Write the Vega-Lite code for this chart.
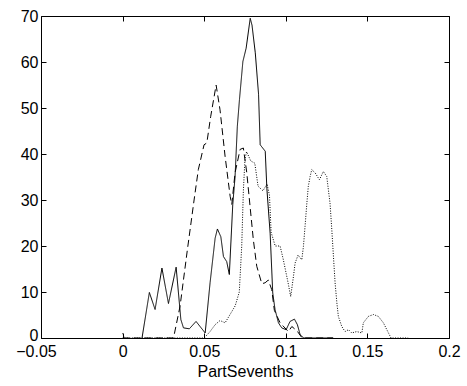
{
  "$schema": "https://vega.github.io/schema/vega-lite/v6.json",
  "width": 408,
  "height": 322,
  "autosize": {"type": "none"},
  "padding": {"left": 41, "top": 16, "right": 18, "bottom": 48},
  "background": "white",
  "config": {
    "view": {"stroke": null},
    "font": "Liberation Sans",
    "axis": {
      "grid": false,
      "domainColor": "black",
      "domainWidth": 1,
      "tickColor": "black",
      "tickWidth": 1,
      "tickSize": -5,
      "labelColor": "black",
      "labelFontSize": 16,
      "labelFont": "Liberation Sans",
      "titleFont": "Liberation Sans",
      "titleFontSize": 16,
      "titleFontWeight": "normal",
      "titleColor": "black"
    }
  },
  "data": {
    "values": [
      {"s": "solid", "x": 0.0119, "y": 0},
      {"s": "solid", "x": 0.0164, "y": 9.9},
      {"s": "solid", "x": 0.0199, "y": 6.2},
      {"s": "solid", "x": 0.0241, "y": 15.2},
      {"s": "solid", "x": 0.0281, "y": 7.5},
      {"s": "solid", "x": 0.0328, "y": 15.4},
      {"s": "solid", "x": 0.0357, "y": 4},
      {"s": "solid", "x": 0.0373, "y": 2.2},
      {"s": "solid", "x": 0.0409, "y": 2},
      {"s": "solid", "x": 0.045, "y": 3.6},
      {"s": "solid", "x": 0.0506, "y": 1.1},
      {"s": "solid", "x": 0.0536, "y": 12},
      {"s": "solid", "x": 0.0567, "y": 21.7},
      {"s": "solid", "x": 0.0581, "y": 23.7},
      {"s": "solid", "x": 0.0602, "y": 22},
      {"s": "solid", "x": 0.0618, "y": 17.7},
      {"s": "solid", "x": 0.0638, "y": 16.6},
      {"s": "solid", "x": 0.0654, "y": 13.8},
      {"s": "solid", "x": 0.0675, "y": 29},
      {"s": "solid", "x": 0.0689, "y": 35},
      {"s": "solid", "x": 0.0703, "y": 46},
      {"s": "solid", "x": 0.0716, "y": 51.8},
      {"s": "solid", "x": 0.0737, "y": 60.1},
      {"s": "solid", "x": 0.0757, "y": 63},
      {"s": "solid", "x": 0.0782, "y": 69.5},
      {"s": "solid", "x": 0.0793, "y": 68},
      {"s": "solid", "x": 0.0813, "y": 62},
      {"s": "solid", "x": 0.0833, "y": 53},
      {"s": "solid", "x": 0.0843, "y": 42},
      {"s": "solid", "x": 0.0874, "y": 40.6},
      {"s": "solid", "x": 0.0884, "y": 32.5},
      {"s": "solid", "x": 0.0904, "y": 22.8},
      {"s": "solid", "x": 0.092, "y": 9.8},
      {"s": "solid", "x": 0.0934, "y": 6.2},
      {"s": "solid", "x": 0.0955, "y": 3.3},
      {"s": "solid", "x": 0.0975, "y": 2.2},
      {"s": "solid", "x": 0.1002, "y": 1.8},
      {"s": "solid", "x": 0.1026, "y": 3.6},
      {"s": "solid", "x": 0.1053, "y": 4.1},
      {"s": "solid", "x": 0.1071, "y": 2.9},
      {"s": "solid", "x": 0.1088, "y": 0.7},
      {"s": "solid", "x": 0.111, "y": 0},
      {"s": "solid", "x": 0.129, "y": 0},

      {"s": "dashed", "x": 0, "y": 0},
      {"s": "dashed", "x": 0.031, "y": 0},
      {"s": "dashed", "x": 0.0316, "y": 0.7},
      {"s": "dashed", "x": 0.0352, "y": 6.9},
      {"s": "dashed", "x": 0.0397, "y": 19.2},
      {"s": "dashed", "x": 0.0438, "y": 30},
      {"s": "dashed", "x": 0.0464, "y": 36.6},
      {"s": "dashed", "x": 0.0499, "y": 42},
      {"s": "dashed", "x": 0.0516, "y": 42.4},
      {"s": "dashed", "x": 0.054, "y": 48.2},
      {"s": "dashed", "x": 0.0573, "y": 55},
      {"s": "dashed", "x": 0.0597, "y": 49.6},
      {"s": "dashed", "x": 0.0628, "y": 39.5},
      {"s": "dashed", "x": 0.0659, "y": 30.8},
      {"s": "dashed", "x": 0.0669, "y": 29},
      {"s": "dashed", "x": 0.0689, "y": 35.9},
      {"s": "dashed", "x": 0.072, "y": 41},
      {"s": "dashed", "x": 0.074, "y": 41.3},
      {"s": "dashed", "x": 0.0761, "y": 35.9},
      {"s": "dashed", "x": 0.0781, "y": 28.6},
      {"s": "dashed", "x": 0.0801, "y": 21.4},
      {"s": "dashed", "x": 0.0822, "y": 15.6},
      {"s": "dashed", "x": 0.0853, "y": 11.8},
      {"s": "dashed", "x": 0.0873, "y": 12},
      {"s": "dashed", "x": 0.0893, "y": 12.6},
      {"s": "dashed", "x": 0.0914, "y": 10.5},
      {"s": "dashed", "x": 0.093, "y": 6},
      {"s": "dashed", "x": 0.0965, "y": 3.3},
      {"s": "dashed", "x": 0.1016, "y": 1.4},
      {"s": "dashed", "x": 0.1037, "y": 2.5},
      {"s": "dashed", "x": 0.107, "y": 1.5},
      {"s": "dashed", "x": 0.11, "y": 0},
      {"s": "dashed", "x": 0.129, "y": 0},

      {"s": "dotted", "x": 0, "y": 1},
      {"s": "dotted", "x": 0.001, "y": 0},
      {"s": "dotted", "x": 0.05, "y": 0},
      {"s": "dotted", "x": 0.0536, "y": 1.4},
      {"s": "dotted", "x": 0.0567, "y": 2.9},
      {"s": "dotted", "x": 0.0597, "y": 3.8},
      {"s": "dotted", "x": 0.0628, "y": 3.3},
      {"s": "dotted", "x": 0.0665, "y": 5.5},
      {"s": "dotted", "x": 0.069, "y": 7},
      {"s": "dotted", "x": 0.0715, "y": 10},
      {"s": "dotted", "x": 0.073, "y": 20},
      {"s": "dotted", "x": 0.074, "y": 32},
      {"s": "dotted", "x": 0.075, "y": 39},
      {"s": "dotted", "x": 0.076, "y": 40.5},
      {"s": "dotted", "x": 0.0785, "y": 38.5},
      {"s": "dotted", "x": 0.081, "y": 38},
      {"s": "dotted", "x": 0.083, "y": 33},
      {"s": "dotted", "x": 0.086, "y": 32},
      {"s": "dotted", "x": 0.0885, "y": 33.5},
      {"s": "dotted", "x": 0.09, "y": 31},
      {"s": "dotted", "x": 0.091, "y": 23},
      {"s": "dotted", "x": 0.0935, "y": 20},
      {"s": "dotted", "x": 0.0965, "y": 20},
      {"s": "dotted", "x": 0.0985, "y": 17},
      {"s": "dotted", "x": 0.1014, "y": 12},
      {"s": "dotted", "x": 0.103, "y": 9},
      {"s": "dotted", "x": 0.1047, "y": 13.4},
      {"s": "dotted", "x": 0.1057, "y": 16.3},
      {"s": "dotted", "x": 0.1075, "y": 18},
      {"s": "dotted", "x": 0.1098, "y": 17},
      {"s": "dotted", "x": 0.1108, "y": 19.9},
      {"s": "dotted", "x": 0.1118, "y": 24.3},
      {"s": "dotted", "x": 0.1129, "y": 29.3},
      {"s": "dotted", "x": 0.1138, "y": 33},
      {"s": "dotted", "x": 0.1149, "y": 35.1},
      {"s": "dotted", "x": 0.1159, "y": 36.6},
      {"s": "dotted", "x": 0.118, "y": 35.9},
      {"s": "dotted", "x": 0.1206, "y": 34.4},
      {"s": "dotted", "x": 0.123, "y": 36.2},
      {"s": "dotted", "x": 0.1251, "y": 35.1},
      {"s": "dotted", "x": 0.1261, "y": 32.2},
      {"s": "dotted", "x": 0.1271, "y": 29.3},
      {"s": "dotted", "x": 0.1282, "y": 23.5},
      {"s": "dotted", "x": 0.1292, "y": 17.7},
      {"s": "dotted", "x": 0.1302, "y": 12},
      {"s": "dotted", "x": 0.1313, "y": 7.6},
      {"s": "dotted", "x": 0.1322, "y": 4.7},
      {"s": "dotted", "x": 0.1343, "y": 2.5},
      {"s": "dotted", "x": 0.1363, "y": 1.4},
      {"s": "dotted", "x": 0.1384, "y": 1.8},
      {"s": "dotted", "x": 0.1404, "y": 1.1},
      {"s": "dotted", "x": 0.1435, "y": 1.4},
      {"s": "dotted", "x": 0.1466, "y": 1.1},
      {"s": "dotted", "x": 0.1475, "y": 3.3},
      {"s": "dotted", "x": 0.1506, "y": 4.7},
      {"s": "dotted", "x": 0.1537, "y": 5.1},
      {"s": "dotted", "x": 0.1567, "y": 4.7},
      {"s": "dotted", "x": 0.1598, "y": 3.3},
      {"s": "dotted", "x": 0.1629, "y": 1.1},
      {"s": "dotted", "x": 0.1645, "y": 0},
      {"s": "dotted", "x": 0.175, "y": 0}
    ]
  },
  "layer": [
    {
      "mark": {"type": "line", "strokeWidth": 1},
      "encoding": {
        "x": {
          "field": "x", "type": "quantitative",
          "scale": {"domain": [-0.05, 0.2], "nice": false, "zero": false},
          "axis": {
            "orient": "bottom",
            "values": [-0.05, 0, 0.05, 0.1, 0.15, 0.2],
            "format": "~g",
            "labelFlush": false,
            "labelPadding": 10,
            "labelOffset": {"condition": {"test": "datum.value < 0", "value": -5}, "value": 0},
            "title": "PartSevenths",
            "titlePadding": 4
          }
        },
        "y": {
          "field": "y", "type": "quantitative",
          "scale": {"domain": [0, 70], "nice": false},
          "axis": {
            "orient": "left",
            "values": [0, 10, 20, 30, 40, 50, 60, 70],
            "labelPadding": 8,
            "labelFlush": false,
            "labelOffset": {"condition": {"test": "datum.value == 0", "value": -3}, "value": 0},
            "title": null
          }
        },
        "color": {
          "field": "s", "type": "nominal",
          "scale": {"domain": ["solid", "dashed", "dotted"], "range": ["#000000", "#000000", "#000000"]},
          "legend": null
        },
        "strokeDash": {
          "field": "s", "type": "nominal",
          "scale": {"domain": ["solid", "dashed", "dotted"], "range": [[1, 0], [7, 4], [1, 1.5]]},
          "legend": null
        }
      }
    },
    {
      "mark": {"type": "point", "opacity": 0},
      "encoding": {
        "x": {
          "field": "x", "type": "quantitative",
          "scale": {"domain": [-0.05, 0.2], "nice": false, "zero": false},
          "axis": {"orient": "top", "values": [-0.05, 0, 0.05, 0.1, 0.15, 0.2], "labels": false, "title": null}
        },
        "y": {
          "field": "y", "type": "quantitative",
          "scale": {"domain": [0, 70], "nice": false},
          "axis": {"orient": "right", "values": [0, 10, 20, 30, 40, 50, 60, 70], "labels": false, "title": null}
        }
      }
    }
  ],
  "resolve": {"axis": {"x": "independent", "y": "independent"}}
}
